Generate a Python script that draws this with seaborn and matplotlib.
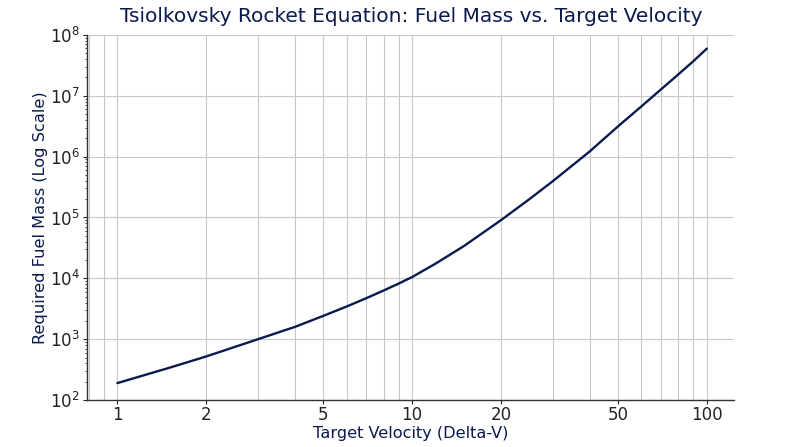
import numpy as np
import pandas as pd
import matplotlib
matplotlib.use("Agg")
import matplotlib.pyplot as plt
import seaborn as sns
from matplotlib.ticker import (FixedLocator, FixedFormatter, LogFormatterSciNotation,
                               NullFormatter)

# values
delta_v = [1, 1.5, 2, 3, 4, 5, 6, 7, 8, 9, 10, 12, 15, 20, 25, 30, 40, 50, 60, 70, 80, 90, 100]
fuel_mass = [190, 339, 520, 1000, 1590, 2420, 3450, 4730, 6300, 8200, 10500, 17400,
             34000, 90000, 200000, 394000, 1.21e6, 3.15e6, 6.7e6, 1.28e7, 2.24e7, 3.7e7, 5.95e7]

x_ticks = [1, 2, 5, 10, 20, 50, 100]
x_tick_labels = ["1", "2", "5", "10", "20", "50", "100"]
y_ticks = [1e2, 1e3, 1e4, 1e5, 1e6, 1e7, 1e8]

NAVY = "#0b1a4d"

df = pd.DataFrame({"dv": delta_v, "mass": fuel_mass})

sns.set_theme(style="white")
plt.rcParams["font.family"] = ["DejaVu Sans"]

fig, ax = plt.subplots(figsize=(8, 4.47), dpi=100)
fig.subplots_adjust(left=0.109, right=0.918, top=0.922, bottom=0.105)

sns.lineplot(data=df, x="dv", y="mass", color=NAVY, linewidth=1.7, ax=ax)

ax.set_xscale("log")
ax.set_yscale("log")
ax.set_xlim(0.79, 124)
ax.set_ylim(1e2, 1e8)

ax.xaxis.set_major_locator(FixedLocator(x_ticks))
ax.xaxis.set_major_formatter(FixedFormatter(x_tick_labels))
ax.xaxis.set_minor_formatter(NullFormatter())

# minor y ticks 2..9 inside each decade
y_minor = [m * 10.0 ** e for e in range(2, 8) for m in range(2, 10)]
ax.yaxis.set_major_locator(FixedLocator(y_ticks))
ax.yaxis.set_major_formatter(LogFormatterSciNotation())
ax.yaxis.set_minor_locator(FixedLocator(y_minor))
ax.yaxis.set_minor_formatter(NullFormatter())

ax.grid(True, which="major", axis="both", color="#c8c8c8", linewidth=0.8)
ax.grid(True, which="minor", axis="x", color="#c8c8c8", linewidth=0.8)

for side in ["top", "right"]:
    ax.spines[side].set_visible(False)
for side in ["left", "bottom"]:
    ax.spines[side].set_color("#333333")
    ax.spines[side].set_linewidth(1.0)

ax.tick_params(axis="both", which="major", labelsize=12, colors="#222222",
               length=3, width=0.8, direction="out", left=True, bottom=True)
ax.tick_params(axis="x", which="major", pad=1.5)
ax.tick_params(axis="y", which="major", pad=2.5)
ax.tick_params(axis="y", which="minor", length=1.5, width=0.6, left=True)
ax.tick_params(axis="x", which="minor", length=0, bottom=False)

ax.set_title("Tsiolkovsky Rocket Equation: Fuel Mass vs. Target Velocity",
             fontsize=14.5, color=NAVY, pad=9)
ax.set_xlabel("Target Velocity (Delta-V)", fontsize=11.6, color=NAVY, labelpad=1)
ax.set_ylabel("Required Fuel Mass (Log Scale)", fontsize=11.7, color=NAVY, labelpad=1)

fig.savefig("out.png", dpi=100)
